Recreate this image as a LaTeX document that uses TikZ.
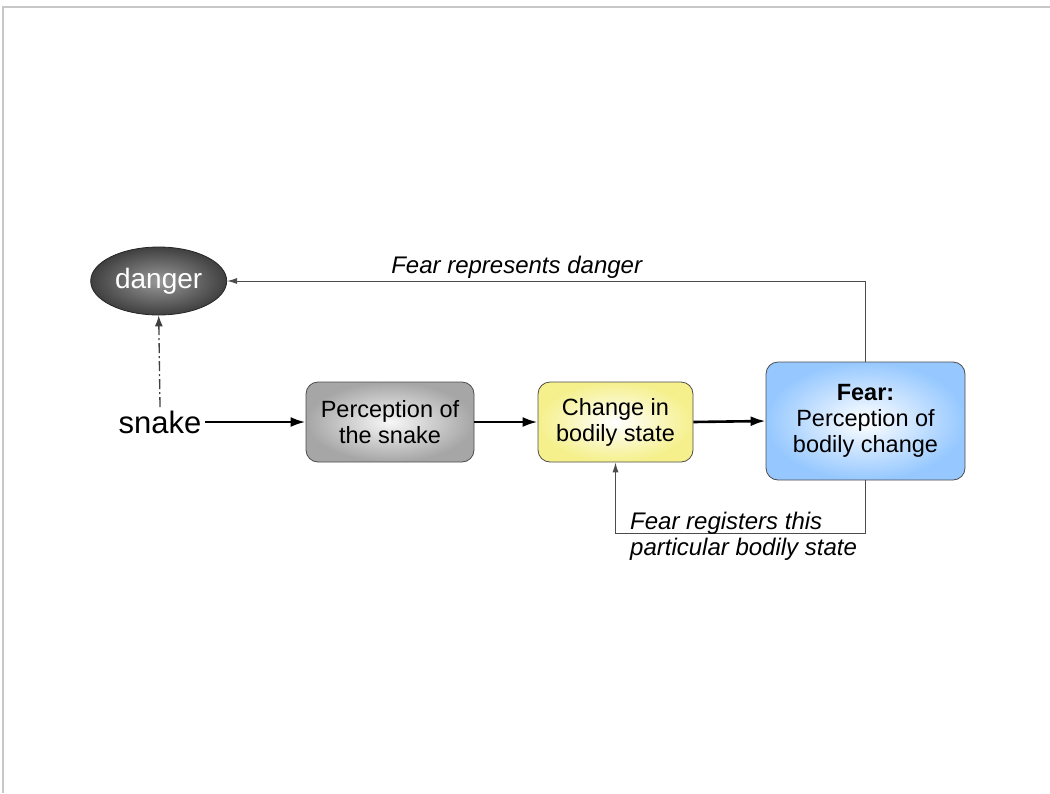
\documentclass[tikz,border=0pt]{standalone}
\usepackage{fontspec}
\setmainfont{Liberation Sans}
\usetikzlibrary{shapes.geometric,arrows.meta}

\definecolor{skyblue}{RGB}{150,200,255}
\definecolor{paleyellow}{RGB}{245,240,140}

\begin{document}
\begin{tikzpicture}[x=1pt,y=-1pt,
  box/.style={draw=black!70, line width=0.8pt, rounded corners=12pt, align=center,
    inner sep=0pt, font=\fontsize{23.5}{26}\selectfont},
  flow/.style={-{Latex[length=15pt,width=10pt]}, line width=2.6pt},
  link/.style={-{Latex[length=10pt,width=6pt]}, draw=black!70, line width=0.9pt},
  note/.style={inner sep=0pt, align=left, font=\fontsize{24}{26}\selectfont\itshape}]
  \useasboundingbox (0,0) rectangle (1050,793);

  % Slide frame
  \draw[black!22, line width=1.5pt] (1050,7) -- (3,7) -- (3,793);

  % Stimulus and what it stands for
  \node[ellipse, draw=black!85, line width=0.8pt, minimum width=136pt, minimum height=68pt,
    inner color=black!40, outer color=black!75, text=white,
    font=\fontsize{28}{30}\selectfont] (danger) at (158.7,281) {danger};
  \node[font=\fontsize{31}{33}\selectfont] (snake) at (160,422) {snake};

  % Processing chain
  \node[box, minimum width=168pt, minimum height=80pt,
    inner color=black!3, outer color=black!35] (percept) at (390,422) {Perception of\\the snake};
  \node[box, minimum width=155pt, minimum height=80pt,
    inner color=white, outer color=paleyellow] (change) at (615.5,422) {Change in\\bodily state};
  \node[box, minimum width=199pt, minimum height=118pt,
    inner color=white, outer color=skyblue] (fear) at (865.5,421)
    {\textbf{Fear:}\\Perception of\\bodily change};

  % Main arrows
  \draw[flow] (snake.east) -- (percept.west);
  \draw[flow] (percept.east) -- (change.west);
  \draw[flow] (change.east) -- (fear.west);

  % Snake stands for danger
  \draw[-{Latex[length=11pt,width=8pt]}, black!75, line width=1.3pt,
    dash pattern=on 10pt off 3pt on 2pt off 3pt] (snake.north) -- (danger.south);

  % Feedback connectors
  \draw[link] (fear.north) |- (danger.east);
  \draw[link] (fear.south) -- ++(0,53) -| (change.south);

  % Labels
  \node[note, anchor=base] (represents) at (516.7,273.3) {Fear represents danger};
  \node[note, anchor=north west] (registers) at (630,512) {Fear registers this\\particular bodily state};
\end{tikzpicture}
\end{document}
